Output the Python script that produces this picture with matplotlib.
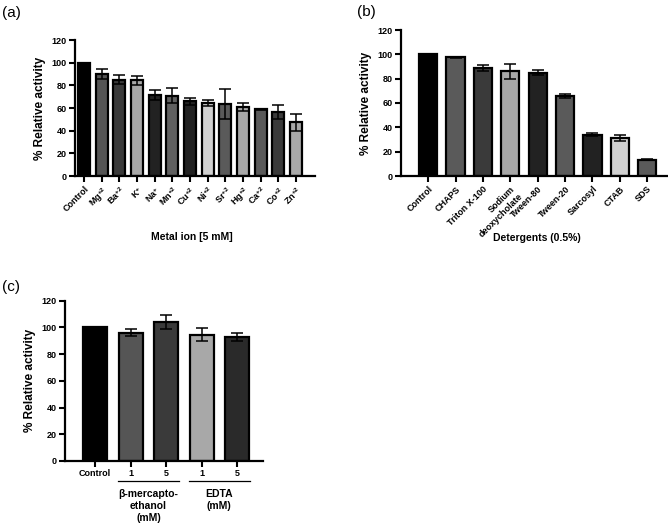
import numpy as np
import matplotlib
matplotlib.use("Agg")
import matplotlib.pyplot as plt
from matplotlib.transforms import blended_transform_factory

plt.rcParams["font.family"] = ["Liberation Sans", "DejaVu Sans"]
plt.rcParams["font.weight"] = "bold"
plt.rcParams["mathtext.fontset"] = "custom"
plt.rcParams["mathtext.rm"] = "Liberation Sans:bold"
plt.rcParams["mathtext.bf"] = "Liberation Sans:bold"
plt.rcParams["mathtext.default"] = "bf"

# (a) metal ions
metal_labels = ["Control", "Mg$^{+2}$", "Ba$^{+2}$", "K$^{+}$", "Na$^{+}$", "Mn$^{+2}$",
                "Cu$^{+2}$", "Ni$^{+2}$", "Sr$^{+2}$", "Hg$^{+2}$", "Ca$^{+2}$",
                "Co$^{+2}$", "Zn$^{+2}$"]
metal_vals = [100, 90, 85, 84.5, 71.5, 71, 66, 64.5, 63.5, 60.5, 59, 56.5, 47.5]
metal_err = [0, 4, 4, 4, 4.5, 7, 3, 2.5, 13, 3.5, 0.5, 6, 7.5]
metal_colors = ["#000000", "#555555", "#3a3a3a", "#a8a8a8", "#222222", "#606060",
                "#222222", "#d0d0d0", "#5a5a5a", "#a8a8a8", "#5a5a5a", "#3a3a3a",
                "#a8a8a8"]

# (b) detergents
det_labels = ["Control", "CHAPS", "Triton X-100", "Sodium\ndeoxycholate", "Tween-80",
              "Tween-20", "Sarcosyl", "CTAB", "SDS"]
det_vals = [100, 97.5, 89, 86, 85, 65.5, 34, 31.5, 13.5]
det_err = [0, 0.5, 2.5, 6, 2, 1.5, 1.5, 2.5, 0.5]
det_colors = ["#000000", "#5a5a5a", "#3a3a3a", "#a8a8a8", "#222222", "#5a5a5a",
              "#222222", "#d0d0d0", "#5a5a5a"]

# (c) reducing / chelating agents
red_labels = ["Control", "1", "5", "1", "5"]
red_vals = [100, 96, 104, 94.5, 92.5]
red_err = [0, 2.5, 5, 5, 3]
red_colors = ["#000000", "#555555", "#3a3a3a", "#a8a8a8", "#2a2a2a"]
red_groups = [("\u03b2-mercapto-\nethanol\n(mM)", 1, 2), ("EDTA\n(mM)", 3, 4)]

W, H = 668, 528


def px_axes(fig, left, right, bottom, top):
    return fig.add_axes([left / W, (H - bottom) / H, (right - left) / W, (bottom - top) / H])


def draw_bars(ax, vals, err, colors, width, xlim):
    x = np.arange(len(vals))
    ax.bar(x, vals, width=width, color=colors, edgecolor="black", linewidth=1.6, zorder=2)
    ax.errorbar(x[1:], vals[1:], yerr=err[1:], fmt="none", ecolor="black",
                elinewidth=1.1, capsize=4, capthick=1.1, zorder=3)
    ax.set_xlim(*xlim)
    ax.set_ylim(0, 120)
    ax.set_yticks(range(0, 121, 20))
    ax.set_xticks(x)
    for s in ["top", "right"]:
        ax.spines[s].set_visible(False)
    for s in ["left", "bottom"]:
        ax.spines[s].set_linewidth(1.6)
    ax.tick_params(axis="both", width=1.5, length=4, labelsize=6.5, pad=2)
    ax.set_ylabel("% Relative activity", fontsize=8.5, fontweight="bold", labelpad=4)
    return x


fig = plt.figure(figsize=(W / 100, H / 100), dpi=100)

# panel a
ax = px_axes(fig, 75, 315, 176, 40)
draw_bars(ax, metal_vals, metal_err, metal_colors, 0.68, (-0.51, 13.07))
ax.set_xticklabels(metal_labels, rotation=45, ha="right", rotation_mode="anchor")
fig.text(192 / W, 1 - 237 / H, "Metal ion [5 mM]", fontsize=7.5, fontweight="bold",
         ha="center", va="center")
fig.text(2 / W, 1 - 13 / H, "(a)", fontsize=11, fontweight="normal", va="center")

# panel b
ax = px_axes(fig, 401, 667, 176, 30)
draw_bars(ax, det_vals, det_err, det_colors, 0.66, (-0.99, 8.72))
ax.set_xticklabels(det_labels, rotation=45, ha="right", rotation_mode="anchor")
fig.text(537 / W, 1 - 238 / H, "Detergents (0.5%)", fontsize=7.5, fontweight="bold",
         ha="center", va="center")
fig.text(357 / W, 1 - 12 / H, "(b)", fontsize=11, fontweight="normal", va="center")

# panel c
ax = px_axes(fig, 65, 263, 461, 300.7)
draw_bars(ax, red_vals, red_err, red_colors, 0.68, (-0.85, 4.73))
ax.set_xticklabels(red_labels)
trans = blended_transform_factory(ax.transData, ax.transAxes)
for name, i0, i1 in red_groups:
    ax.plot([i0 - 0.35, i1 + 0.35], [-0.125, -0.125], color="black", lw=0.9,
            transform=trans, clip_on=False)
    ax.text((i0 + i1) / 2, -0.175, name, transform=trans, ha="center", va="top",
            fontsize=7.5, fontweight="bold", linespacing=1.25)
fig.text(2 / W, 1 - 287 / H, "(c)", fontsize=11, fontweight="normal", va="center")

fig.savefig("out.png", dpi=100)
